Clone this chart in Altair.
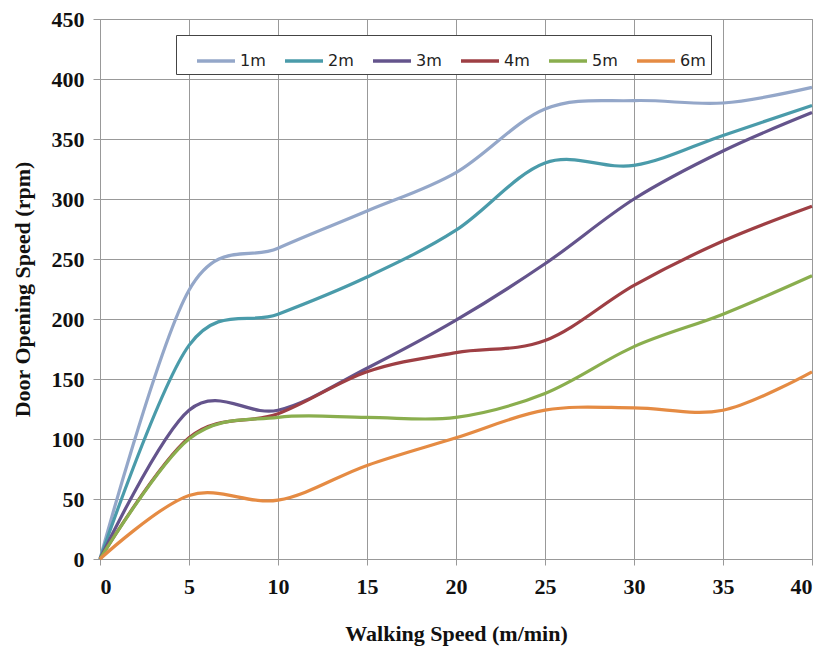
import altair as alt
import pandas as pd

walking = [0, 5, 10, 15, 20, 25, 30, 35, 40]
series_names = ["1m", "2m", "3m", "4m", "5m", "6m"]
s1 = [0, 224, 259, 290, 322, 375, 382, 380, 393]
s2 = [0, 178, 204, 235, 274, 330, 328, 353, 378]
s3 = [0, 124, 124, 159, 199, 246, 300, 340, 372]
s4 = [0, 101, 121, 156, 172, 182, 228, 265, 294]
s5 = [0, 100, 118, 118, 118, 138, 177, 204, 236]
s6 = [0, 53, 49, 78, 101, 124, 126, 124, 156]
colors = ["#94A7C9", "#4A9BAA", "#64548C", "#9E3F44", "#8AAE4E", "#E58B43"]

rows = []
for name, vals in zip(series_names, [s1, s2, s3, s4, s5, s6]):
    for x, y in zip(walking, vals):
        rows.append({"Walking": x, "Door": y, "Series": name})
df = pd.DataFrame(rows)

grid_col = "#999999"

chart = alt.Chart(df).mark_line(interpolate="cardinal", strokeWidth=3.2).encode(
    x=alt.X("Walking:Q", title="Walking Speed (m/min)",
            scale=alt.Scale(domain=[0, 40], nice=False),
            axis=alt.Axis(values=[0, 5, 10, 15, 20, 25, 30, 35, 40], tickSize=6,
                          labelPadding=11, titlePadding=26)),
    y=alt.Y("Door:Q", title="Door Opening Speed (rpm)",
            scale=alt.Scale(domain=[0, 450], nice=False),
            axis=alt.Axis(values=list(range(0, 451, 50)), tickSize=7,
                          labelPadding=9, titlePadding=17)),
    color=alt.Color("Series:N", scale=alt.Scale(domain=series_names, range=colors),
                    legend=alt.Legend(title=None, orient="none", direction="horizontal",
                                      legendX=76, legendY=16,
                                      symbolType="stroke", symbolSize=1444,
                                      symbolStrokeWidth=3.5, labelOffset=3,
                                      symbolOffset=14,
                                      columnPadding=3, padding=5,
                                      labelFont="DejaVu Sans", labelFontSize=16,
                                      labelColor="#222222",
                                      strokeColor="#444444", fillColor="white")),
    detail="Series:N",
).properties(
    width=712, height=540,
    padding={"left": 92, "top": 11, "right": 11, "bottom": 94},
    autosize=alt.AutoSizeParams(type="none"),
).configure_view(
    stroke=grid_col, strokeWidth=1
).configure_axis(
    gridColor=grid_col, gridWidth=1, gridOpacity=1,
    domainColor=grid_col, tickColor=grid_col,
    labelFont="Liberation Serif", labelFontWeight="bold", labelFontSize=22,
    labelColor="#111111",
    titleFont="Liberation Serif", titleFontWeight="bold", titleFontSize=22,
    titleColor="#111111",
)

chart.save("out.html", embed_options={"renderer": "svg", "actions": False})
